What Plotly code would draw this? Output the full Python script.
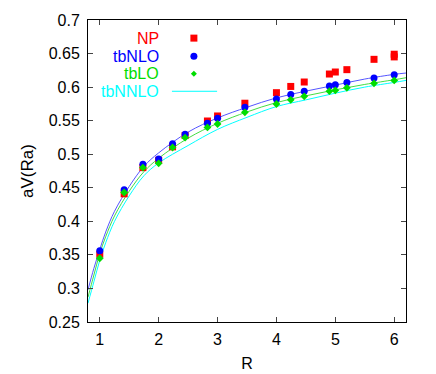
import plotly.graph_objects as go

# lattice separations (sqrt of integers)
R = [1.0, 1.414, 1.732, 2.0, 2.236, 2.449, 2.828, 3.0, 3.464,
     4.0, 4.243, 4.472, 4.899, 5.0, 5.196, 5.657, 6.0]
np_R = R + [6.0]
np_vals = [0.351, 0.441, 0.480, 0.491, 0.511, 0.528, 0.5495, 0.557, 0.576,
           0.5917, 0.601, 0.6076, 0.6195, 0.6225, 0.626, 0.6414, 0.649, 0.645]
nlo_vals = [0.356, 0.447, 0.485, 0.493, 0.5157, 0.5297, 0.546, 0.5535, 0.570,
            0.5823, 0.589, 0.5937, 0.6017, 0.6036, 0.607, 0.6136, 0.6185]
lo_vals = [0.345, 0.443, 0.480, 0.4865, 0.510, 0.5246, 0.540, 0.545, 0.5625,
           0.5748, 0.581, 0.5863, 0.594, 0.5952, 0.599, 0.6056, 0.610]

# curves
curve_R = [0.8, 0.9, 1.0, 1.1, 1.25, 1.5, 1.75, 2.0, 2.5, 3.0, 3.5,
           4.0, 4.5, 5.0, 5.5, 6.0, 6.2]
curve_nlo = [0.298, 0.330, 0.358, 0.384, 0.415, 0.452, 0.482, 0.502, 0.533,
             0.554, 0.570, 0.584, 0.594, 0.603, 0.612, 0.619, 0.621]
curve_lo = [0.287, 0.320, 0.352, 0.377, 0.408, 0.445, 0.474, 0.494, 0.524,
            0.546, 0.563, 0.577, 0.587, 0.596, 0.604, 0.611, 0.614]
curve_nnlo = [0.278, 0.310, 0.342, 0.368, 0.400, 0.438, 0.468, 0.487, 0.513,
              0.537, 0.555, 0.571, 0.581, 0.591, 0.600, 0.607, 0.610]

legend_names = ["NP", "tbNLO", "tbLO", "tbNNLO"]
RED = "#ff0000"
BLUE = "#0000ff"
GREEN = "#00dd00"
CYAN = "#00ffff"

fig = go.Figure()
fig.add_trace(go.Scatter(x=curve_R, y=curve_nnlo, mode="lines",
                         line=dict(color=CYAN, width=1), line_shape="spline"))
fig.add_trace(go.Scatter(x=curve_R, y=curve_lo, mode="lines",
                         line=dict(color="#44dd44", width=1), line_shape="spline"))
fig.add_trace(go.Scatter(x=curve_R, y=curve_nlo, mode="lines",
                         line=dict(color="#5555ff", width=1), line_shape="spline"))
fig.add_trace(go.Scatter(x=np_R, y=np_vals, mode="markers",
                         marker=dict(symbol="square", size=7, color=RED)))
fig.add_trace(go.Scatter(x=R, y=nlo_vals, mode="markers",
                         marker=dict(symbol="circle", size=7, color=BLUE)))
fig.add_trace(go.Scatter(x=R, y=lo_vals, mode="markers",
                         marker=dict(symbol="diamond", size=6, color=GREEN)))

# hand-made legend: text right aligned, symbol to the right
rows_y = [0.940, 0.880, 0.822, 0.764]
colors = [RED, BLUE, GREEN, CYAN]
for name, yy, c in zip(legend_names, rows_y, colors):
    fig.add_annotation(x=0.226, y=yy, xref="paper", yref="paper", text=name,
                       showarrow=False, xanchor="right", yanchor="middle",
                       borderpad=0, font=dict(size=16, color=c))

sx = 0.333
fig.add_shape(type="rect", xref="paper", yref="paper", xsizemode="pixel",
              ysizemode="pixel", xanchor=sx, yanchor=rows_y[0],
              x0=-3.5, x1=3.5, y0=-3.5, y1=3.5, fillcolor=RED, line_width=0)
fig.add_shape(type="circle", xref="paper", yref="paper", xsizemode="pixel",
              ysizemode="pixel", xanchor=sx, yanchor=rows_y[1],
              x0=-3.5, x1=3.5, y0=-3.5, y1=3.5, fillcolor=BLUE, line_width=0)
fig.add_shape(type="path", xref="paper", yref="paper", xsizemode="pixel",
              ysizemode="pixel", xanchor=sx, yanchor=rows_y[2],
              path="M -3 0 L 0 3 L 3 0 L 0 -3 Z", fillcolor=GREEN, line_width=0)
fig.add_shape(type="line", xref="paper", yref="paper", x0=0.264, x1=0.406,
              y0=rows_y[3], y1=rows_y[3], line=dict(color=CYAN, width=1))

# the page body has an 8px margin, so the figure is made 8px smaller
font = "Liberation Sans, Arial, sans-serif"
fig.update_layout(
    width=428, height=366,
    margin=dict(l=80, r=30, t=12, b=52),
    plot_bgcolor="white", paper_bgcolor="white",
    showlegend=False,
    font=dict(family=font, size=16, color="black"),
)
fig.update_xaxes(range=[0.8, 6.2], tickvals=[1, 2, 3, 4, 5, 6],
                 ticks="inside", ticklen=5, mirror="ticks", showline=True,
                 linecolor="black", linewidth=1, showgrid=False, zeroline=False,
                 automargin=False, ticklabelstandoff=3,
                 title=dict(text="R", font=dict(size=16), standoff=10))
fig.update_yaxes(range=[0.25, 0.7], dtick=0.05, tick0=0.25,
                 ticks="inside", ticklen=5, mirror="ticks", showline=True,
                 linecolor="black", linewidth=1, showgrid=False, zeroline=False,
                 automargin=False, ticklabelstandoff=4,
                 title=dict(text="aV(Ra)", font=dict(size=17), standoff=10))

fig.write_html("out.html")
